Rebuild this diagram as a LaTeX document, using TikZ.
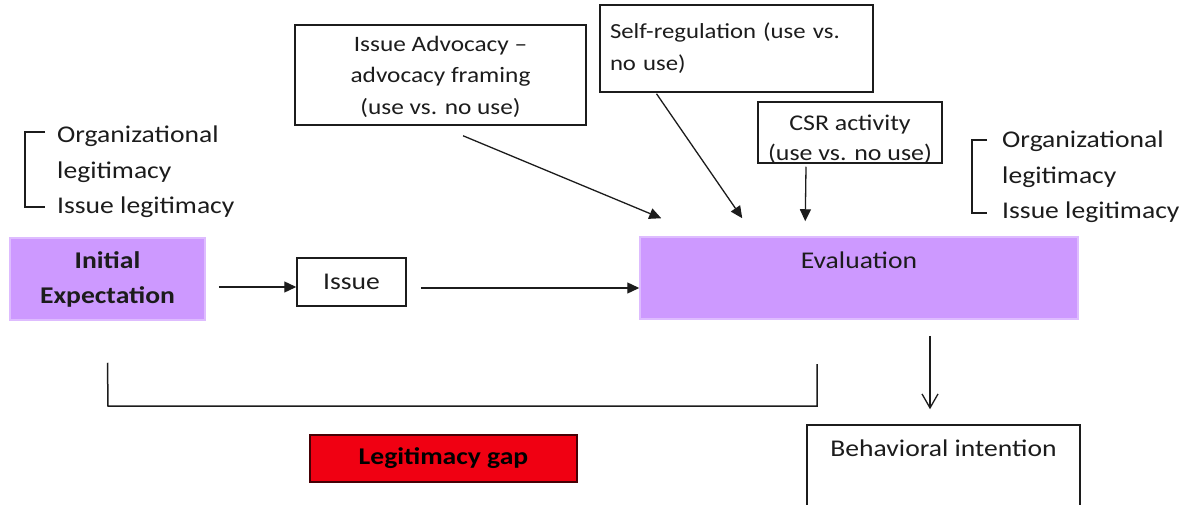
\documentclass[tikz,border=0pt]{standalone}
\usepackage{fontspec}
\setmainfont{Carlito}[FakeStretch=1.15]
\usetikzlibrary{arrows.meta}
\definecolor{lav}{RGB}{205,153,255}
\definecolor{lavedge}{RGB}{222,188,255}
\definecolor{gapred}{RGB}{240,0,18}
\definecolor{gapedge}{RGB}{70,0,5}
\definecolor{ink}{RGB}{28,28,28}
\begin{document}
\begin{tikzpicture}[x=1pt,y=-1pt,
  font=\fontsize{24}{35}\selectfont, text=ink,
  box/.style={draw=ink,line width=1.5pt,inner sep=0pt},
  lavbox/.style={fill=lav,draw=lavedge,line width=1.5pt,inner sep=0pt},
  arr/.style={ink,line width=1.3pt,-{Triangle[length=12pt,width=11pt]}},
  openarr/.style={ink,line width=1.3pt,-{Straight Barb[length=14pt,width=16pt]}},
  bracket/.style={ink,line width=1.5pt},
  legtext/.style={anchor=west,align=left,inner sep=0pt,font=\fontsize{24}{35.5}\selectfont}]
\clip (0,0) rectangle (1190,505);

% main chain
\node[lavbox,minimum width=195pt,minimum height=82pt,align=center,
      font=\fontsize{24}{35}\selectfont\bfseries] (init) at (107.5,279) {Initial\\Expectation};
\node[box,minimum width=109pt,minimum height=48pt] (issue) at (351.5,282) {Issue};
\node[lavbox,minimum width=438pt,text height=31pt,text depth=51pt] (eval) at (859,278) {Evaluation};
\node[box,minimum width=273pt,text height=31pt,text depth=80pt] (behav) at (943.5,480.5) {Behavioral intention};
\node[box,fill=gapred,draw=gapedge,minimum width=267pt,minimum height=47pt,text=black,
      font=\fontsize{24}{35}\selectfont\bfseries] (gap) at (443.5,458.5) {Legitimacy gap};

% moderators
\node[box,minimum width=291pt,minimum height=100pt,font=\fontsize{22}{31.5}\selectfont] (adv) at (440.5,75)
  {\raisebox{-1.5pt}[\height][\depth]{\begin{tabular}{@{}c@{}}Issue Advocacy \textendash\\advocacy framing\\(use vs. no use)\end{tabular}}};
\node[box,minimum width=273pt,minimum height=87pt,align=left,text width=253pt,
      font=\fontsize{21.5}{32}\selectfont] (selfreg) at (736.5,48.5) {Self-regulation (use vs.\\no use)};
\node[box,minimum width=184pt,minimum height=61pt,font=\fontsize{22.5}{30}\selectfont] (csr) at (850,132.5)
  {\raisebox{-7.5pt}[\height][\depth]{\begin{tabular}{@{}c@{}}CSR activity\\(use vs. no use)\end{tabular}}};

% legitimacy dimensions
\node[legtext] (lleg) at (57,172) {Organizational\\legitimacy\\Issue legitimacy};
\draw[bracket] (45,132) -- (25,132) -- (25,207) -- (45,207);
\node[legtext] (rleg) at (1002,177) {Organizational\\legitimacy\\Issue legitimacy};
\draw[bracket] (987,140) -- (972,140) -- (972,213) -- (987,213);

% connectors
\draw[arr] ([xshift=13pt,yshift=-5pt]init.east |- issue.west) -- ([yshift=-5pt]issue.west);
\draw[arr] ([xshift=14pt,yshift=-6pt]issue.east) -- ([yshift=-6pt]eval.west |- issue.east);
\draw[arr] ([xshift=22.5pt,yshift=-10pt]adv.south) -- ([xshift=22pt,yshift=18pt]eval.north west);
\draw[arr] ([xshift=-80pt,yshift=-1pt]selfreg.south) -- ([xshift=103pt,yshift=18pt]eval.north west);
\draw[arr] ([xshift=-44pt,yshift=-3pt]csr.south) -- ([xshift=166pt,yshift=15pt]eval.north west);
\draw[openarr] ([xshift=71pt,yshift=-16pt]eval.south) -- ([xshift=-13.5pt,yshift=15pt]behav.north);

% span of the legitimacy gap
\draw[bracket] ([yshift=-42pt]init.south) -- (108,406) -- (817,406) -- (817,364);
\end{tikzpicture}
\end{document}
